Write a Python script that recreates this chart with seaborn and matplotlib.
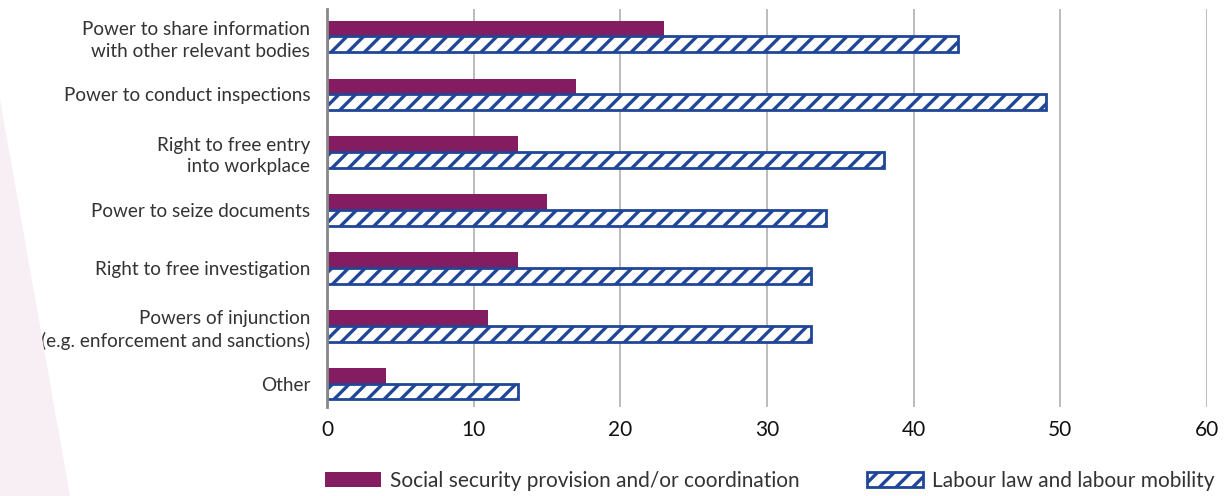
import matplotlib
matplotlib.use("Agg")
import matplotlib.pyplot as plt
import seaborn as sns
import pandas as pd
from matplotlib.patches import Polygon, Patch

categories = [
    "Power to share information\nwith other relevant bodies",
    "Power to conduct inspections",
    "Right to free entry\ninto workplace",
    "Power to seize documents",
    "Right to free investigation",
    "Powers of injunction\n(e.g. enforcement and sanctions)",
    "Other",
]
series_names = ["Social security provision and/or coordination",
                "Labour law and labour mobility"]
social_security = [23, 17, 13, 15, 13, 11, 4]
labour_law = [43, 49, 38, 34, 33, 33, 13]
x_ticks = [0, 10, 20, 30, 40, 50, 60]

MAGENTA = "#841c62"
BLUE = "#1f4697"
TEXT = "#333333"
FS = 15
LABEL_FS = 13.6

sns.set_theme(style="white")
plt.rcParams["font.family"] = ["Lato", "DejaVu Sans"]
plt.rcParams["hatch.linewidth"] = 2.4
plt.rcParams["hatch.color"] = BLUE

df = pd.DataFrame({
    "category": categories * 2,
    "value": social_security + labour_law,
    "series": [series_names[0]] * len(categories) + [series_names[1]] * len(categories),
})

fig = plt.figure(figsize=(12.28, 4.96), dpi=100)
# faint decorative wedge on the left edge
fig.patches.append(Polygon([[0, 0], [0, 0.80], [0.057, 0]], closed=True,
                           transform=fig.transFigure, facecolor="#f8eff5",
                           edgecolor="none", zorder=0))
ax = fig.add_axes([327 / 1228, 89 / 496, 880 / 1228, 398 / 496])
ax.patch.set_alpha(0)

sns.barplot(data=df, y="category", x="value", hue="series", orient="h",
            palette=[MAGENTA, "white"], width=0.54, dodge=True, ax=ax,
            legend=False, saturation=1)

for bar in ax.containers[0]:
    bar.set_edgecolor("none")
for bar in ax.containers[1]:
    bar.set_hatch("//")
    bar.set_edgecolor(BLUE)
    bar.set_linewidth(2.0)

ax.set_xlim(0, 60)
ax.set_ylim(6.40, -0.47)
ax.set_xticks(x_ticks)
ax.set_xticklabels([str(t) for t in x_ticks], fontsize=FS, color="#111111")
ax.tick_params(axis="x", length=0, pad=9)
ax.tick_params(axis="y", length=0, pad=12)
for lbl in ax.get_yticklabels():
    lbl.set_fontsize(LABEL_FS)
    lbl.set_color(TEXT)
    lbl.set_horizontalalignment("right")
    lbl.set_multialignment("right")
    lbl.set_linespacing(1.35)
ax.set_xlabel("")
ax.set_ylabel("")
ax.grid(axis="x", color="#b0b0b0", linewidth=1.2)
ax.set_axisbelow(True)
for s in ["top", "right", "bottom"]:
    ax.spines[s].set_visible(False)
ax.spines["left"].set_color("#888888")
ax.spines["left"].set_linewidth(2)

handles = [Patch(facecolor=MAGENTA, edgecolor="none"),
           Patch(facecolor="white", edgecolor=BLUE, hatch="//", linewidth=2)]
legend_kw = dict(loc="center left", frameon=False, fontsize=FS, handlelength=2.7,
                 handleheight=0.75, handletextpad=0.43, borderpad=0, borderaxespad=0)
leg1 = fig.legend(handles=[handles[0]], labels=[series_names[0]],
                  bbox_to_anchor=(325 / 1228, 0.030), **legend_kw)
leg2 = fig.legend(handles=[handles[1]], labels=[series_names[1]],
                  bbox_to_anchor=(867 / 1228, 0.030), **legend_kw)
for leg in (leg1, leg2):
    for t in leg.get_texts():
        t.set_color(TEXT)

fig.savefig("out.png", dpi=100)
